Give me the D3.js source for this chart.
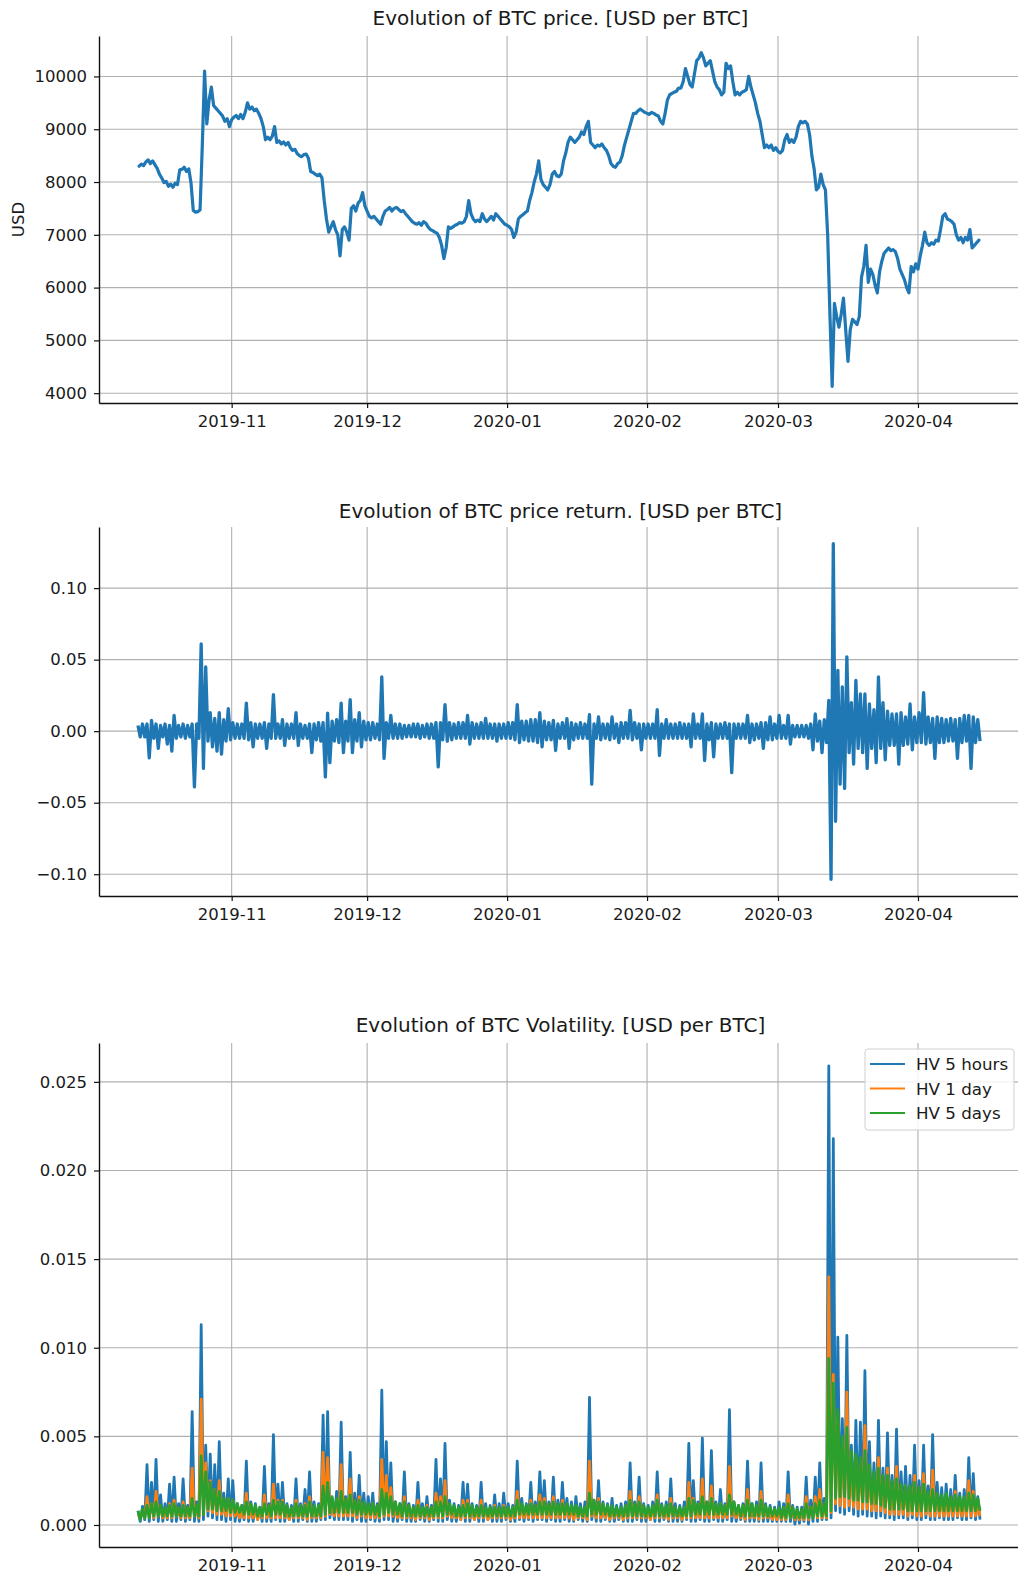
<!DOCTYPE html>
<html>
<head>
<meta charset="utf-8">
<script src="https://cdn.jsdelivr.net/npm/d3@7"></script>
<style>
  body { margin: 0; background: #fff; }
  svg { display: block; }
  text { font-family: "DejaVu Sans", sans-serif; fill: #1a1a1a; }
</style>
</head>
<body>
<svg id="chart" width="1018" height="1577"></svg>
<script>
// ---------- data ----------
// BTC close, sampled every 12 hours from 2019-10-11 12:00 UTC
const priceStart = Date.UTC(2019, 9, 11, 12);
const price = [
  8300,8340,8310,8380,8420,8350,8400,8330,8260,8150,
  8080,7990,8010,7920,7960,7900,7980,7950,8230,8240,
  8280,8200,8250,7980,7460,7430,7440,7470,8700,10100,
  9100,9550,9800,9450,9400,9350,9300,9250,9150,9200,
  9050,9180,9230,9260,9200,9280,9200,9320,9500,9380,
  9420,9350,9380,9300,9200,9050,8800,8850,8800,8870,
  9050,8750,8780,8720,8760,8700,8750,8650,8600,8620,
  8540,8500,8480,8520,8530,8450,8200,8180,8150,8120,
  8150,8080,7650,7300,7050,7150,7250,7100,7000,6600,
  7100,7150,7050,6900,7500,7550,7450,7600,7650,7800,
  7550,7450,7350,7320,7350,7300,7250,7200,7350,7450,
  7480,7520,7450,7500,7520,7480,7440,7460,7400,7350,
  7300,7250,7220,7200,7230,7180,7250,7220,7150,7100,
  7080,7050,7030,6950,6800,6550,6750,7150,7120,7150,
  7180,7200,7230,7220,7250,7350,7650,7400,7300,7250,
  7280,7250,7400,7300,7250,7300,7350,7280,7400,7350,
  7300,7250,7200,7180,7150,7100,6950,7050,7300,7350,
  7380,7420,7450,7650,7800,8000,8150,8400,8050,7950,
  7900,7850,7950,8150,8200,8120,8100,8150,8400,8550,
  8750,8850,8800,8750,8800,8850,8950,8900,9050,9150,
  8750,8700,8650,8700,8680,8720,8650,8600,8500,8350,
  8300,8280,8350,8380,8500,8700,8850,9000,9150,9300,
  9300,9350,9380,9350,9320,9300,9280,9320,9300,9270,
  9250,9150,9100,9300,9550,9650,9680,9700,9720,9780,
  9780,9900,10150,10000,9850,9800,10050,10300,10350,10450,
  10350,10200,10250,10300,10100,9900,9800,9750,9650,9700,
  10250,10150,10200,9900,9650,9700,9650,9700,9720,9750,
  10000,9800,9650,9500,9300,9150,8900,8650,8700,8650,
  8700,8600,8650,8580,8550,8600,8800,8900,8750,8800,
  8750,8850,9050,9150,9120,9150,9100,8900,8500,8250,
  7850,7900,8150,7950,7850,7000,5500,4130,5700,5450,
  5250,5500,5800,5200,4600,5200,5400,5350,5300,5450,
  6200,6400,6800,6100,6350,6250,6050,5900,6300,6500,
  6650,6700,6750,6700,6720,6680,6550,6350,6250,6150,
  6000,5900,6400,6300,6450,6350,6600,6800,7050,6850,
  6800,6850,6820,6900,6880,7100,7350,7400,7300,7280,
  7250,7200,7000,6900,6950,6850,6950,6900,7100,6750,
  6800,6850,6900
];

// Hourly returns and volatilities, summarised per UTC day (from 2019-10-11)
// as the day's highest and lowest value.
const dayStart = Date.UTC(2019, 9, 11);
const retHigh = [
  .004,.005,.005,.0075,.005,.004,.005,.004,.011,.004,
  .005,.004,.005,.005,.061,.045,.013,.009,.013,.008,
  .0157,.006,.005,.005,.0196,.006,.005,.005,.006,.005,
  .0255,.005,.008,.005,.005,.013,.005,.004,.005,.005,
  .006,.006,.0126,.007,.008,.0196,.007,.022,.008,.013,
  .007,.006,.006,.005,.038,.006,.011,.005,.005,.004,
  .004,.005,.005,.004,.005,.005,.006,.006,.0185,.006,
  .005,.006,.006,.011,.006,.005,.006,.009,.005,.005,
  .005,.005,.006,.006,.0185,.007,.007,.008,.008,.013,
  .007,.006,.0075,.005,.006,.0087,.006,.005,.006,.005,
  .0115,.005,.01,.005,.005,.01,.005,.006,.006,.0145,
  .006,.005,.005,.005,.005,.015,.005,.008,.005,.005,
  .006,.005,.005,.012,.005,.012,.005,.006,.005,.005,
  .006,.005,.005,.005,.005,.011,.005,.005,.006,.006,
  .01,.005,.011,.004,.011,.004,.004,.004,.004,.005,
  .012,.007,.008,.0215,.131,.0425,.031,.052,.02,.0355,
  .026,.026,.019,.015,.038,.02,.014,.012,.012,.013,
  .01,.019,.01,.013,.027,.01,.009,.01,.009,.008,
  .009,.008,.009,.011,.011,.01,.008
];
const retLow = [
  -.004,-.004,-.0187,-.005,-.012,-.004,-.009,-.014,-.005,-.004,
  -.005,-.004,-.039,-.005,-.026,-.007,-.011,-.014,-.016,-.007,
  -.006,-.005,-.005,-.005,-.006,-.011,-.005,-.005,-.012,-.005,
  -.005,-.005,-.010,-.005,-.005,-.010,-.005,-.005,-.015,-.006,
  -.007,-.032,-.022,-.007,-.008,-.015,-.007,-.015,-.007,-.011,
  -.006,-.006,-.005,-.006,-.019,-.005,-.005,-.005,-.005,-.004,
  -.004,-.004,-.005,-.004,-.005,-.005,-.025,-.006,-.007,-.006,
  -.005,-.005,-.005,-.009,-.005,-.005,-.005,-.005,-.005,-.007,
  -.005,-.005,-.005,-.006,-.008,-.006,-.007,-.007,-.008,-.011,
  -.006,-.006,-.0135,-.005,-.005,-.012,-.006,-.005,-.005,-.005,
  -.037,-.005,-.006,-.005,-.006,-.005,-.008,-.005,-.005,-.006,
  -.005,-.013,-.005,-.005,-.005,-.017,-.005,-.005,-.005,-.005,
  -.005,-.005,-.011,-.005,-.005,-.0205,-.006,-.018,-.005,-.005,
  -.005,-.029,-.005,-.005,-.005,-.008,-.006,-.005,-.012,-.006,
  -.006,-.005,-.005,-.005,-.009,-.004,-.004,-.004,-.005,-.013,
  -.007,-.015,-.008,-.1035,-.063,-.037,-.040,-.015,-.023,-.012,
  -.015,-.026,-.012,-.022,-.012,-.020,-.010,-.010,-.023,-.010,
  -.009,-.013,-.008,-.008,-.009,-.008,-.019,-.008,-.008,-.007,
  -.007,-.019,-.008,-.007,-.026,-.008,-.007
];

const hv5hHigh = [
  .0008,.00105,.0034,.0024,.0037,.0017,.0012,.0023,.0027,.0012,
  .0026,.0011,.0064,.0013,.0113,.0045,.004,.0034,.0047,.0018,
  .0026,.0025,.0012,.0011,.0036,.0013,.0012,.001,.0033,.0012,
  .0051,.0023,.0024,.0012,.0011,.0026,.0012,.002,.003,.0013,
  .0012,.0062,.0064,.0015,.0019,.0058,.0016,.0041,.0018,.0028,
  .0018,.0016,.0018,.0012,.0076,.0047,.0035,.0013,.0012,.003,
  .0012,.0011,.0024,.0012,.0016,.0011,.0037,.0026,.0046,.0014,
  .0012,.0011,.0024,.0023,.0012,.0011,.0024,.0012,.0011,.0017,
  .0012,.0018,.0012,.0011,.0036,.0015,.0012,.0024,.0013,.003,
  .0025,.0013,.0027,.0014,.0024,.0015,.0013,.0016,.0012,.0013,
  .0072,.0014,.0025,.0013,.0012,.0015,.0011,.0012,.0013,.0035,
  .0013,.0027,.0012,.0011,.0013,.003,.0012,.0013,.0026,.0012,
  .0011,.0013,.0046,.0025,.0013,.0049,.0013,.0042,.0013,.002,
  .0012,.0065,.0013,.0011,.0012,.0036,.0012,.0013,.0035,.0012,
  .0011,.001,.0013,.0012,.003,.0011,.001,.001,.0027,.0014,
  .0027,.0035,.0015,.0259,.0218,.0106,.006,.0107,.0045,.0059,
  .0058,.0087,.0047,.0035,.0059,.0032,.0052,.0028,.0054,.003,
  .0033,.0028,.0045,.0025,.0045,.0022,.0051,.0024,.0021,.0023,
  .002,.0028,.0018,.002,.0038,.0029,.0016
];
const hv5hLow = [
  .0002,.0003,.0002,.0003,.0002,.0002,.0003,.0002,.0002,.0003,
  .0002,.0003,.0002,.0002,.0003,.0005,.0004,.0003,.0003,.0002,
  .0003,.0002,.0002,.0003,.0002,.0002,.0003,.0002,.0002,.0002,
  .0003,.0002,.0002,.0003,.0002,.0002,.0003,.0002,.0002,.0002,
  .0003,.0003,.0004,.0003,.0003,.0003,.0003,.0002,.0003,.0002,
  .0002,.0003,.0002,.0002,.0003,.0003,.0002,.0002,.0003,.0002,
  .0002,.0002,.0003,.0002,.0002,.0003,.0002,.0002,.0003,.0002,
  .0002,.0003,.0002,.0002,.0003,.0002,.0002,.0003,.0002,.0002,
  .0002,.0003,.0002,.0002,.0003,.0002,.0003,.0002,.0003,.0003,
  .0002,.0003,.0002,.0002,.0003,.0002,.0002,.0003,.0002,.0002,
  .0003,.0002,.0002,.0003,.0002,.0002,.0003,.0002,.0002,.0002,
  .0003,.0002,.0002,.0003,.0002,.0002,.0003,.0002,.0002,.0002,
  .0002,.0003,.0002,.0002,.0003,.0002,.0002,.0003,.0002,.0002,
  .0003,.0002,.0002,.0003,.0002,.0002,.0002,.0002,.0002,.0002,
  .0002,.0002,.0002,.0002,.0002,.00005,.0001,.0002,.00005,.0002,
  .0002,.0003,.0003,.0004,.0008,.0007,.0006,.0008,.0006,.0005,
  .0006,.0005,.0005,.0004,.0005,.0004,.0004,.0003,.0004,.0004,
  .0003,.0004,.0003,.0003,.0004,.0003,.0003,.0004,.0003,.0003,
  .0003,.0004,.0003,.0003,.0004,.0003,.0003
];

const hv1dHigh = [
  .0006,.0008,.0016,.0012,.0019,.001,.0008,.0012,.0014,.0008,
  .0013,.0008,.0032,.0009,.0071,.0035,.0025,.002,.0025,.0012,
  .0015,.0014,.0009,.0008,.0018,.0009,.0008,.0008,.0017,.0009,
  .0023,.0014,.0014,.0009,.0008,.0014,.0009,.0012,.0016,.0009,
  .0009,.0041,.0038,.0012,.0013,.0034,.0011,.0026,.0012,.0016,
  .0012,.0011,.0012,.0009,.0037,.0028,.0021,.0009,.0008,.0016,
  .0009,.0008,.0014,.0009,.0011,.0008,.0018,.0016,.0025,.001,
  .0009,.0008,.0014,.0014,.0009,.0008,.0014,.0009,.0008,.0011,
  .0009,.0011,.0009,.0008,.0019,.001,.0009,.0014,.0009,.0017,
  .0015,.0009,.0016,.001,.0014,.001,.0009,.001,.0009,.0009,
  .0036,.001,.0015,.0009,.0009,.001,.0008,.0009,.0009,.0019,
  .0009,.0016,.0009,.0008,.0009,.0017,.0009,.0009,.0015,.0009,
  .0008,.0009,.0024,.0015,.0009,.0026,.0009,.0022,.0009,.0012,
  .0009,.0033,.0009,.0008,.0009,.002,.0009,.0009,.0019,.0009,
  .0008,.0007,.0009,.0008,.0017,.0008,.0007,.0007,.0016,.001,
  .0016,.002,.0011,.014,.0085,.006,.0042,.0075,.003,.0038,
  .0036,.0056,.003,.0025,.0038,.0024,.0032,.002,.0033,.0021,
  .0022,.002,.0028,.0017,.0029,.0016,.0031,.0016,.0015,.0016,
  .0014,.0019,.0013,.0014,.0025,.0019,.0012
];
const hv1dLow = [
  .0004,.0004,.0005,.0004,.0005,.0004,.0004,.0004,.0005,.0004,
  .0004,.0004,.0005,.0004,.0006,.0008,.0007,.0006,.0006,.0005,
  .0005,.0005,.0004,.0004,.0004,.0004,.0003,.0004,.0004,.0004,
  .0004,.0004,.0004,.0003,.0004,.0004,.0004,.0003,.0004,.0004,
  .0004,.0005,.0006,.0005,.0005,.0005,.0005,.0005,.0004,.0005,
  .0004,.0004,.0004,.0004,.0005,.0005,.0005,.0004,.0004,.0004,
  .0004,.0003,.0004,.0004,.0003,.0004,.0004,.0004,.0005,.0004,
  .0004,.0003,.0004,.0004,.0003,.0004,.0004,.0003,.0004,.0004,
  .0004,.0004,.0003,.0004,.0004,.0004,.0004,.0004,.0004,.0004,
  .0004,.0004,.0004,.0004,.0004,.0004,.0003,.0004,.0004,.0003,
  .0005,.0004,.0004,.0004,.0003,.0004,.0004,.0003,.0004,.0004,
  .0004,.0004,.0004,.0003,.0004,.0004,.0004,.0003,.0004,.0004,
  .0003,.0004,.0004,.0004,.0004,.0004,.0004,.0004,.0004,.0004,
  .0004,.0005,.0004,.0004,.0003,.0004,.0004,.0003,.0004,.0004,
  .0003,.0003,.0003,.0003,.0004,.0003,.0003,.0003,.0003,.0004,
  .0004,.0004,.0004,.0007,.0012,.0011,.001,.0011,.001,.0009,
  .0009,.0009,.0008,.0008,.0008,.0007,.0006,.0006,.0006,.0006,
  .0005,.0006,.0005,.0005,.0006,.0005,.0005,.0005,.0005,.0005,
  .0005,.0005,.0005,.0005,.0005,.0005,.0005
];

const hv5dHigh = [
  .0008,.0009,.0011,.0012,.0013,.0011,.001,.0011,.0012,.001,
  .0011,.001,.0015,.0011,.0039,.003,.0024,.002,.0019,.0015,
  .0015,.0014,.0012,.0011,.0013,.0012,.0011,.001,.0012,.0011,
  .0014,.0013,.0013,.0011,.001,.0012,.0011,.0011,.0013,.0011,
  .0011,.0022,.0024,.0016,.0015,.0019,.0015,.0017,.0014,.0014,
  .0013,.0012,.0012,.0011,.002,.0018,.0016,.0013,.0012,.0013,
  .0011,.001,.0011,.001,.001,.001,.0013,.0013,.0016,.0012,
  .0011,.001,.0011,.0012,.0011,.001,.0011,.001,.001,.001,
  .001,.001,.001,.001,.0014,.0012,.0011,.0012,.0011,.0013,
  .0013,.0012,.0013,.0012,.0012,.0012,.0011,.0011,.001,.001,
  .0018,.0014,.0013,.0012,.0011,.0011,.001,.001,.0011,.0014,
  .0012,.0013,.0011,.001,.0011,.0014,.0011,.0011,.0012,.001,
  .001,.001,.0015,.0014,.0012,.0016,.0013,.0015,.0012,.0012,
  .0011,.0017,.0013,.0011,.0011,.0014,.0012,.0011,.0014,.0011,
  .001,.0009,.001,.001,.0012,.001,.0009,.0009,.0012,.001,
  .0012,.0014,.0012,.0094,.008,.0065,.005,.0055,.0042,.004,
  .0038,.0042,.0034,.003,.0032,.0028,.0028,.0025,.0026,.0023,
  .0022,.0022,.0024,.0021,.0023,.0019,.002,.0018,.0017,.0018,
  .0016,.0017,.0016,.0016,.0018,.0017,.0015
];
const hv5dLow = [
  .0003,.0004,.0004,.0005,.0005,.0005,.0005,.0005,.0005,.0005,
  .0005,.0005,.0005,.0005,.0006,.0009,.0009,.0008,.0008,.0008,
  .0007,.0007,.0007,.0006,.0006,.0006,.0005,.0005,.0006,.0005,
  .0006,.0006,.0005,.0005,.0005,.0005,.0005,.0005,.0005,.0005,
  .0005,.0006,.0007,.0007,.0007,.0007,.0007,.0007,.0006,.0006,
  .0006,.0006,.0006,.0005,.0006,.0007,.0006,.0006,.0005,.0005,
  .0005,.0005,.0005,.0005,.0005,.0005,.0005,.0005,.0006,.0006,
  .0005,.0005,.0005,.0005,.0005,.0005,.0005,.0005,.0005,.0005,
  .0005,.0005,.0005,.0005,.0006,.0006,.0006,.0006,.0006,.0006,
  .0006,.0006,.0006,.0006,.0006,.0006,.0006,.0005,.0005,.0005,
  .0006,.0006,.0006,.0006,.0005,.0005,.0005,.0005,.0005,.0005,
  .0005,.0005,.0005,.0005,.0005,.0005,.0005,.0005,.0005,.0005,
  .0005,.0005,.0005,.0006,.0006,.0006,.0006,.0006,.0006,.0006,
  .0006,.0006,.0006,.0005,.0005,.0005,.0005,.0005,.0005,.0005,
  .0005,.0005,.0004,.0004,.0004,.0004,.0004,.0004,.0004,.0004,
  .0005,.0005,.0005,.0008,.0015,.0016,.0016,.0015,.0014,.0014,
  .0013,.0013,.0012,.0012,.0011,.001,.0009,.0009,.0009,.0009,
  .0008,.0008,.0008,.0008,.0008,.0008,.0008,.0008,.0008,.0008,
  .0008,.0008,.0008,.0008,.0008,.0008,.0008
];

// Axis ticks
const monthTicks = ["2019-11", "2019-12", "2020-01", "2020-02", "2020-03", "2020-04"];
const priceTicks = [4000, 5000, 6000, 7000, 8000, 9000, 10000];
const returnTicks = [-0.10, -0.05, 0.00, 0.05, 0.10];
const volTicks = [0.000, 0.005, 0.010, 0.015, 0.020, 0.025];

// Series labels and colours for the volatility panel
const volNames = ["HV 5 hours", "HV 1 day", "HV 5 days"];
const volColors = ["#1f77b4", "#ff7f0e", "#2ca02c"];

// ---------- helpers ----------
const HOUR = 3600 * 1000, DAY = 24 * HOUR;
const svg = d3.select("#chart");
const left = 99, right = 1022;
const TICK_FONT = 16.5;

// Time axis shared by the three panels
const x = d3.scaleUtc()
  .domain([Date.UTC(2019, 9, 2, 14, 50), Date.UTC(2020, 3, 24, 1, 0)])
  .range([left, right]);
const monthDates = monthTicks.map(d3.utcParse("%Y-%m"));

// Daily high/low pairs become a line that visits the high then the low of each day
function dailySwing(high, low) {
  const pts = [];
  high.forEach((h, k) => {
    pts.push({ t: dayStart + (k + 0.25) * DAY, v: h });
    pts.push({ t: dayStart + (k + 0.75) * DAY, v: low[k] });
  });
  return pts;
}

// matplotlib-style 5% margin around the data range
function padded(values) {
  const [lo, hi] = d3.extent(values);
  const m = (hi - lo) * 0.05;
  return [lo - m, hi + m];
}

const minus = s => s.replace("-", "\u2212");

function panel({ top, bottom, yDomain, yTicks, yFormat, title, titleGap, yLabel }) {
  const g = svg.append("g");
  const y = d3.scaleLinear().domain(yDomain).range([bottom, top]);

  // grid
  g.append("g").selectAll("line").data(monthDates).join("line")
    .attr("x1", d => x(d)).attr("x2", d => x(d))
    .attr("y1", top).attr("y2", bottom)
    .attr("stroke", "#b0b0b0").attr("stroke-width", 1.1);
  g.append("g").selectAll("line").data(yTicks).join("line")
    .attr("x1", left).attr("x2", right)
    .attr("y1", d => y(d)).attr("y2", d => y(d))
    .attr("stroke", "#b0b0b0").attr("stroke-width", 1.1);

  // axes
  const ax = g.append("g").attr("transform", `translate(0,${bottom})`)
    .call(d3.axisBottom(x).tickValues(monthDates).tickFormat(d3.utcFormat("%Y-%m"))
      .tickSize(5).tickPadding(7).tickSizeOuter(0));
  const ay = g.append("g").attr("transform", `translate(${left},0)`)
    .call(d3.axisLeft(y).tickValues(yTicks).tickFormat(d => minus(yFormat(d)))
      .tickSize(5).tickPadding(7).tickSizeOuter(0));
  [ax, ay].forEach(a => {
    a.select(".domain").attr("stroke", "#111").attr("stroke-width", 1.4);
    a.selectAll(".tick line").attr("stroke", "#111").attr("stroke-width", 1.2);
    a.selectAll("text").attr("font-size", TICK_FONT).attr("font-family", "DejaVu Sans").attr("fill", "#1a1a1a");
  });

  g.append("text").attr("x", (left + right) / 2).attr("y", top - titleGap)
    .attr("text-anchor", "middle").attr("font-size", 20).text(title);

  if (yLabel) {
    g.append("text").attr("transform", `translate(24,${(top + bottom) / 2}) rotate(-90)`)
      .attr("text-anchor", "middle").attr("font-size", TICK_FONT).text(yLabel);
  }
  return { g, y };
}

// ---------- panel 1: price ----------
{
  const pts = price.map((v, i) => ({ t: priceStart + i * 12 * HOUR, v }));
  const { g, y } = panel({
    top: 36, bottom: 403, yDomain: padded(price), yTicks: priceTicks,
    yFormat: d3.format("d"), title: "Evolution of BTC price. [USD per BTC]", titleGap: 11, yLabel: "USD"
  });
  g.append("path").datum(pts)
    .attr("fill", "none").attr("stroke", volColors[0]).attr("stroke-width", 3.2)
    .attr("stroke-linejoin", "round").attr("stroke-linecap", "round")
    .attr("d", d3.line().x(d => x(d.t)).y(d => y(d.v)));
}

// ---------- panel 2: returns ----------
{
  const pts = dailySwing(retHigh, retLow);
  const { g, y } = panel({
    top: 527, bottom: 896, yDomain: padded(retHigh.concat(retLow)), yTicks: returnTicks,
    yFormat: d3.format(".2f"), title: "Evolution of BTC price return. [USD per BTC]", titleGap: 9
  });
  g.append("path").datum(pts)
    .attr("fill", "none").attr("stroke", volColors[0]).attr("stroke-width", 3.3)
    .attr("stroke-linejoin", "round")
    .attr("d", d3.line().x(d => x(d.t)).y(d => y(d.v)));
}

// ---------- panel 3: volatility ----------
{
  const series = [
    dailySwing(hv5hHigh, hv5hLow),
    dailySwing(hv1dHigh, hv1dLow),
    dailySwing(hv5dHigh, hv5dLow)
  ];
  const all = [].concat(hv5hHigh, hv5hLow, hv1dHigh, hv1dLow, hv5dHigh, hv5dLow);
  const { g, y } = panel({
    top: 1043, bottom: 1547, yDomain: padded(all), yTicks: volTicks,
    yFormat: d3.format(".3f"), title: "Evolution of BTC Volatility. [USD per BTC]", titleGap: 11
  });
  const line = d3.line().x(d => x(d.t)).y(d => y(d.v));
  series.forEach((pts, i) => {
    g.append("path").datum(pts)
      .attr("fill", "none").attr("stroke", volColors[i]).attr("stroke-width", 2.8)
      .attr("stroke-linejoin", "round")
      .attr("d", line);
  });

  // legend
  const lg = g.append("g").attr("transform", "translate(865,1049)");
  lg.append("rect").attr("width", 149).attr("height", 81).attr("rx", 3)
    .attr("fill", "#fff").attr("fill-opacity", 0.85)
    .attr("stroke", "#d0d0d0").attr("stroke-width", 1);
  volNames.forEach((name, i) => {
    const cy = 15 + i * 24.5;
    lg.append("line").attr("x1", 5).attr("x2", 40).attr("y1", cy).attr("y2", cy)
      .attr("stroke", volColors[i]).attr("stroke-width", 2.2);
    lg.append("text").attr("x", 51).attr("y", cy + 6).attr("font-size", 16.7).text(name);
  });
}
</script>
</body>
</html>
